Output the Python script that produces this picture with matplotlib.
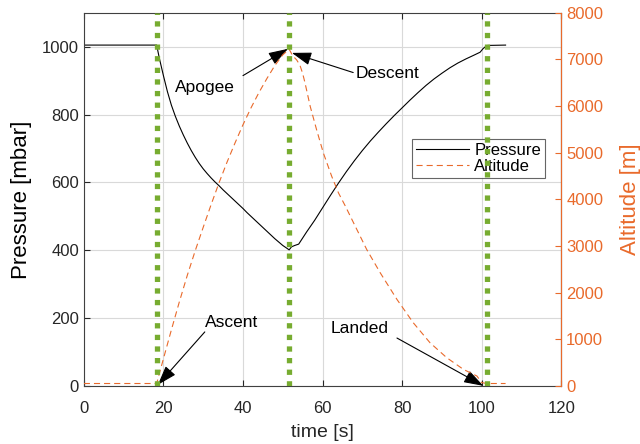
import matplotlib
matplotlib.use('Agg')
import matplotlib.pyplot as plt

plt.rcParams['font.family'] = ['Liberation Sans', 'DejaVu Sans']

# pressure log [s], [mbar]
t_press = [0, 18.3, 19, 20, 21, 22, 23, 24, 25, 26, 27, 28, 29, 30, 31, 32, 33, 34,
           35, 36, 37, 38, 39, 40, 41, 42, 43, 44, 45, 46, 47, 48, 49, 50, 51, 51.6,
           52.2, 53.0, 54.0, 55.0, 56.0, 57.0, 58.0, 60, 62, 64, 66, 68, 70, 72, 74,
           76, 78, 80, 82, 84, 86, 88, 90, 92, 94, 96, 98, 99.6, 100.3, 101.0, 101.5, 106]
pressure = [1005, 1005, 965, 915, 868, 828, 795, 766, 740, 716, 694, 674, 656, 640,
            626, 613, 601, 590, 578, 567, 556, 545, 534, 523, 511, 500, 489, 478, 467,
            456, 445, 434, 424, 414, 406, 401,
            410, 414, 418, 436, 454, 471, 488, 525, 562, 598, 632, 664, 694, 722, 748,
            773, 797, 820, 843, 865, 886, 905, 922, 938, 952, 964, 975, 984, 994, 1001, 1004, 1005]

# altitude log [s], [m]
t_alt = [0, 18.3, 20, 22, 24, 26, 28, 30, 32, 34, 36, 38, 40, 42, 44, 46, 48, 50, 51.6,
         52.5, 53.5, 54.3, 55.0, 55.6, 56.9, 58.5, 60.2, 62.3, 64.0, 65.7, 67.8, 71.1,
         74.5, 78.7, 82.8, 87.0, 91.2, 95.4, 98.8, 100.0, 101.3, 106]
altitude = [50, 50, 580, 1200, 1800, 2370, 2900, 3400, 3890, 4360, 4800, 5210, 5600,
            5960, 6290, 6590, 6870, 7100, 7220,
            7080, 6990, 6880, 6700, 6494, 5993, 5494, 4995, 4494, 4138, 3860, 3495, 2924,
            2424, 1853, 1353, 925, 604, 353, 210, 69, 50, 50]

# flight events [s]
events = [18.3, 51.6, 101.3]
event_names = ['Ascent', 'Apogee', 'Descent', 'Landed']

orange = '#E96A2B'
dark = '#262626'
green = '#77AC30'

fig = plt.figure(figsize=(6.4, 4.44), dpi=100)
ax = fig.add_axes([0.131, 0.131, 0.746, 0.840])
ax2 = ax.twinx()

l1, = ax.plot(t_press, pressure, color='black', lw=0.8, label='Pressure')
l2, = ax2.plot(t_alt, altitude, color=orange, lw=0.8, dashes=(5.5, 3.6), label='Altitude')
for ev in events:
    ax2.axvline(ev, color=green, lw=3.8, dashes=(1, 1.2), dash_capstyle='butt', zorder=5)

ax.set_xlim(0, 120)
ax.set_ylim(0, 1100)
ax2.set_ylim(0, 8000)
ax.set_xticks(range(0, 121, 20))
ax.set_yticks(range(0, 1001, 200))
ax2.set_yticks(range(0, 8001, 1000))

ax.grid(True, color='#d9d9d9', lw=0.8)
ax.set_axisbelow(True)

ax.tick_params(axis='both', direction='in', length=4, labelsize=12, colors=dark, top=True)
ax.tick_params(axis='x', pad=11)
ax2.tick_params(axis='y', direction='in', length=4, labelsize=12, colors=orange)
for s in ['left', 'top', 'bottom']:
    ax.spines[s].set_color('#404040')
ax2.spines['right'].set_color(orange)
ax2.spines['left'].set_visible(False)
ax2.spines['top'].set_visible(False)
ax2.spines['bottom'].set_visible(False)

ax.set_xlabel('time [s]', fontsize=14, color=dark, labelpad=6)
ax.set_ylabel('Pressure [mbar]', fontsize=16, color='black', labelpad=7)
ax2.set_ylabel('Altitude [m]', fontsize=16, color=orange, labelpad=12)

leg = ax.legend(handles=[l1, l2], loc='upper right', bbox_to_anchor=(0.966, 0.662),
                fontsize=12, frameon=True, fancybox=False, handlelength=3.2,
                borderpad=0.25, labelspacing=0.05, handletextpad=0.3, borderaxespad=0)
leg.get_frame().set_edgecolor('#404040')
leg.get_frame().set_linewidth(0.8)

# annotation text positions and arrow ends (left axis data units)
txt_pos = [(37.2, 188), (30.4, 879), (76.2, 921), (69.2, 168)]
arrow_tail = [(30.4, 159), (40.0, 915), (67.7, 924), (78.7, 141)]
arrow_head = [(18.6, 3), (51.3, 994), (52.3, 982), (100.4, 0)]

for name, tp, tail, head in zip(event_names, txt_pos, arrow_tail, arrow_head):
    ax.text(tp[0], tp[1], name, fontsize=12.5, ha='center', va='center', color='black')
    ax.annotate('', xy=head, xytext=tail,
                arrowprops=dict(arrowstyle='-|>,head_length=1.2,head_width=0.4',
                                mutation_scale=10, color='black', lw=0.8,
                                shrinkA=0, shrinkB=0))

fig.savefig('out.png', dpi=100)
